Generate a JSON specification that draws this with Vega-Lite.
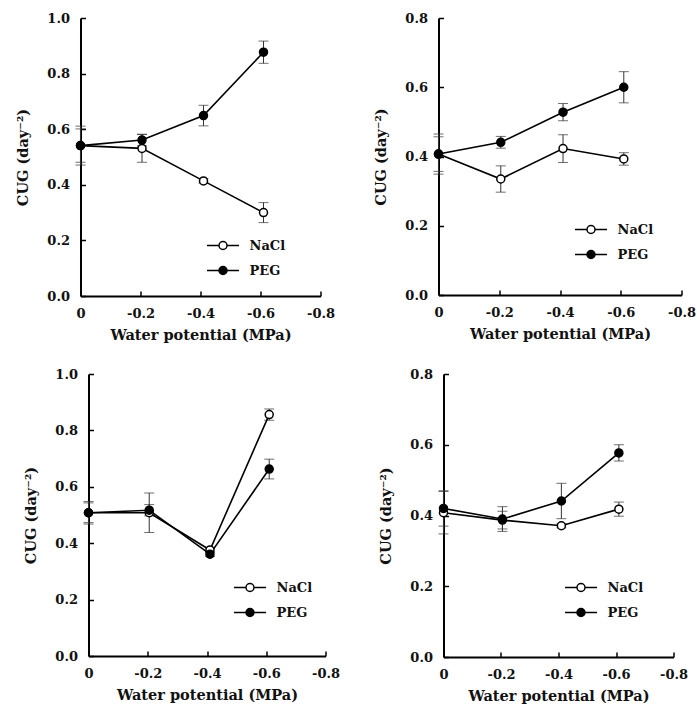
{
  "$schema": "https://vega.github.io/schema/vega-lite/v6.json",
  "padding": {"left": 15, "top": 12, "right": 3, "bottom": 5},
  "background": "white",
  "datasets": {
    "cug": [
      {"panel": "a", "treatment": "NaCl", "wp": 0, "cug": 0.541, "err": 0.06},
      {"panel": "a", "treatment": "NaCl", "wp": -0.205, "cug": 0.531, "err": 0.05},
      {"panel": "a", "treatment": "NaCl", "wp": -0.41, "cug": 0.414, "err": 0.008},
      {"panel": "a", "treatment": "NaCl", "wp": -0.61, "cug": 0.3, "err": 0.036},
      {"panel": "a", "treatment": "PEG", "wp": 0, "cug": 0.541, "err": 0.07},
      {"panel": "a", "treatment": "PEG", "wp": -0.205, "cug": 0.561, "err": 0.021},
      {"panel": "a", "treatment": "PEG", "wp": -0.41, "cug": 0.649, "err": 0.037},
      {"panel": "a", "treatment": "PEG", "wp": -0.61, "cug": 0.877, "err": 0.04},
      {"panel": "b", "treatment": "NaCl", "wp": 0, "cug": 0.407, "err": 0.058},
      {"panel": "b", "treatment": "NaCl", "wp": -0.205, "cug": 0.335, "err": 0.038},
      {"panel": "b", "treatment": "NaCl", "wp": -0.41, "cug": 0.423, "err": 0.04},
      {"panel": "b", "treatment": "NaCl", "wp": -0.61, "cug": 0.393, "err": 0.018},
      {"panel": "b", "treatment": "PEG", "wp": 0, "cug": 0.407, "err": 0.05},
      {"panel": "b", "treatment": "PEG", "wp": -0.205, "cug": 0.441, "err": 0.017},
      {"panel": "b", "treatment": "PEG", "wp": -0.41, "cug": 0.528, "err": 0.025},
      {"panel": "b", "treatment": "PEG", "wp": -0.61, "cug": 0.6, "err": 0.045},
      {"panel": "c", "treatment": "NaCl", "wp": 0, "cug": 0.508, "err": 0.04},
      {"panel": "c", "treatment": "NaCl", "wp": -0.205, "cug": 0.508, "err": 0.07},
      {"panel": "c", "treatment": "NaCl", "wp": -0.41, "cug": 0.376, "err": 0.008},
      {"panel": "c", "treatment": "NaCl", "wp": -0.61, "cug": 0.856, "err": 0.02},
      {"panel": "c", "treatment": "PEG", "wp": 0, "cug": 0.508, "err": 0.035},
      {"panel": "c", "treatment": "PEG", "wp": -0.205, "cug": 0.517, "err": 0.02},
      {"panel": "c", "treatment": "PEG", "wp": -0.41, "cug": 0.361, "err": 0.008},
      {"panel": "c", "treatment": "PEG", "wp": -0.61, "cug": 0.663, "err": 0.035},
      {"panel": "d", "treatment": "NaCl", "wp": 0, "cug": 0.408, "err": 0.06},
      {"panel": "d", "treatment": "NaCl", "wp": -0.205, "cug": 0.387, "err": 0.025},
      {"panel": "d", "treatment": "NaCl", "wp": -0.41, "cug": 0.371, "err": 0.006},
      {"panel": "d", "treatment": "NaCl", "wp": -0.61, "cug": 0.418, "err": 0.02},
      {"panel": "d", "treatment": "PEG", "wp": 0, "cug": 0.42, "err": 0.05},
      {"panel": "d", "treatment": "PEG", "wp": -0.205, "cug": 0.39, "err": 0.035},
      {"panel": "d", "treatment": "PEG", "wp": -0.41, "cug": 0.441, "err": 0.05},
      {"panel": "d", "treatment": "PEG", "wp": -0.61, "cug": 0.577, "err": 0.023}
    ]
  },
  "data": {"name": "cug"},
  "resolve": {"scale": {"fill": "independent"}, "legend": {"fill": "independent"}},
  "spacing": 26,
  "center": true,
  "vconcat": [
    {
      "spacing": 38,
      "resolve": {"scale": {"fill": "independent"}, "legend": {"fill": "independent"}},
      "hconcat": [
        {
          "width": 240, "height": 278,
          "transform": [{"filter": "datum.panel === 'a'"}],
          "encoding": {
            "x": {"field": "wp", "type": "quantitative", "scale": {"domain": [-0.8, 0], "reverse": true, "nice": false}, "axis": {"values": [0, -0.2, -0.4, -0.6, -0.8], "labelExpr": "datum.value == 0 ? '0' : '-' + format(abs(datum.value), '.1f')", "title": "Water potential (MPa)"}},
            "y": {"field": "cug", "type": "quantitative", "scale": {"domain": [0, 1], "nice": false}, "axis": {"values": [0, 0.2, 0.4, 0.6, 0.8, 1.0], "format": ".1f", "title": "CUG (day⁻²)"}}
          },
          "layer": [
            {"mark": {"type": "errorbar", "ticks": {"size": 10, "color": "#333"}, "color": "#333", "thickness": 1}, "encoding": {"yError": {"field": "err"}, "detail": {"field": "treatment"}}},
            {"mark": {"type": "line", "color": "black", "strokeWidth": 1.6}, "encoding": {"detail": {"field": "treatment"}}},
            {"mark": {"type": "point", "shape": "circle", "filled": true, "size": 64, "stroke": "black", "strokeWidth": 1.5, "opacity": 1},
             "encoding": {"fill": {"field": "treatment", "type": "nominal", "scale": {"domain": ["NaCl", "PEG"], "range": ["white", "black"]},
               "legend": {"title": null, "orient": "none", "legendX": 136, "legendY": 221, "symbolType": "M-4,0H-1M1,0A1,1,0,1,1,-1,0A1,1,0,1,1,1,0M1,0H4", "symbolSize": 64, "symbolStrokeColor": "black", "symbolStrokeWidth": 1.5, "labelOffset": 20}}}},
            {"data": {"values": [{"panel": "a", "letter": "a"}]}, "mark": {"type": "text", "fontSize": 18, "fontWeight": "bold", "font": "DejaVu Serif", "color": "#111"}, "encoding": {"x": {"datum": -0.08}, "y": {"datum": 0.917}, "text": {"field": "letter"}}}
          ]
        },
        {
          "width": 243, "height": 277,
          "transform": [{"filter": "datum.panel === 'b'"}],
          "encoding": {
            "x": {"field": "wp", "type": "quantitative", "scale": {"domain": [-0.8, 0], "reverse": true, "nice": false}, "axis": {"values": [0, -0.2, -0.4, -0.6, -0.8], "labelExpr": "datum.value == 0 ? '0' : '-' + format(abs(datum.value), '.1f')", "title": "Water potential (MPa)"}},
            "y": {"field": "cug", "type": "quantitative", "scale": {"domain": [0, 0.8], "nice": false}, "axis": {"values": [0, 0.2, 0.4, 0.6, 0.8], "format": ".1f", "title": "CUG (day⁻²)"}}
          },
          "layer": [
            {"mark": {"type": "errorbar", "ticks": {"size": 10, "color": "#333"}, "color": "#333", "thickness": 1}, "encoding": {"yError": {"field": "err"}, "detail": {"field": "treatment"}}},
            {"mark": {"type": "line", "color": "black", "strokeWidth": 1.6}, "encoding": {"detail": {"field": "treatment"}}},
            {"mark": {"type": "point", "shape": "circle", "filled": true, "size": 64, "stroke": "black", "strokeWidth": 1.5, "opacity": 1},
             "encoding": {"fill": {"field": "treatment", "type": "nominal", "scale": {"domain": ["NaCl", "PEG"], "range": ["white", "black"]},
               "legend": {"title": null, "orient": "none", "legendX": 146, "legendY": 205, "symbolType": "M-4,0H-1M1,0A1,1,0,1,1,-1,0A1,1,0,1,1,1,0M1,0H4", "symbolSize": 64, "symbolStrokeColor": "black", "symbolStrokeWidth": 1.5, "labelOffset": 20}}}},
            {"data": {"values": [{"panel": "b", "letter": "b"}]}, "mark": {"type": "text", "fontSize": 18, "fontWeight": "bold", "font": "DejaVu Serif", "color": "#111"}, "encoding": {"x": {"datum": -0.092}, "y": {"datum": 0.748}, "text": {"field": "letter"}}}
          ]
        }
      ]
    },
    {
      "spacing": 38,
      "resolve": {"scale": {"fill": "independent"}, "legend": {"fill": "independent"}},
      "hconcat": [
        {
          "width": 237, "height": 282,
          "transform": [{"filter": "datum.panel === 'c'"}],
          "encoding": {
            "x": {"field": "wp", "type": "quantitative", "scale": {"domain": [-0.8, 0], "reverse": true, "nice": false}, "axis": {"values": [0, -0.2, -0.4, -0.6, -0.8], "labelExpr": "datum.value == 0 ? '0' : '-' + format(abs(datum.value), '.1f')", "title": "Water potential (MPa)"}},
            "y": {"field": "cug", "type": "quantitative", "scale": {"domain": [0, 1], "nice": false}, "axis": {"values": [0, 0.2, 0.4, 0.6, 0.8, 1.0], "format": ".1f", "title": "CUG (day⁻²)"}}
          },
          "layer": [
            {"mark": {"type": "errorbar", "ticks": {"size": 10, "color": "#333"}, "color": "#333", "thickness": 1}, "encoding": {"yError": {"field": "err"}, "detail": {"field": "treatment"}}},
            {"mark": {"type": "line", "color": "black", "strokeWidth": 1.6}, "encoding": {"detail": {"field": "treatment"}}},
            {"mark": {"type": "point", "shape": "circle", "filled": true, "size": 64, "stroke": "black", "strokeWidth": 1.5, "opacity": 1},
             "encoding": {"fill": {"field": "treatment", "type": "nominal", "scale": {"domain": ["NaCl", "PEG"], "range": ["white", "black"]},
               "legend": {"title": null, "orient": "none", "legendX": 155, "legendY": 207, "symbolType": "M-4,0H-1M1,0A1,1,0,1,1,-1,0A1,1,0,1,1,1,0M1,0H4", "symbolSize": 64, "symbolStrokeColor": "black", "symbolStrokeWidth": 1.5, "labelOffset": 20}}}},
            {"data": {"values": [{"panel": "c", "letter": "c"}]}, "mark": {"type": "text", "fontSize": 18, "fontWeight": "bold", "font": "DejaVu Serif", "color": "#111"}, "encoding": {"x": {"datum": -0.105}, "y": {"datum": 0.922}, "text": {"field": "letter"}}}
          ]
        },
        {
          "width": 230, "height": 283,
          "transform": [{"filter": "datum.panel === 'd'"}],
          "encoding": {
            "x": {"field": "wp", "type": "quantitative", "scale": {"domain": [-0.8, 0], "reverse": true, "nice": false}, "axis": {"values": [0, -0.2, -0.4, -0.6, -0.8], "labelExpr": "datum.value == 0 ? '0' : '-' + format(abs(datum.value), '.1f')", "title": "Water potential (MPa)"}},
            "y": {"field": "cug", "type": "quantitative", "scale": {"domain": [0, 0.8], "nice": false}, "axis": {"values": [0, 0.2, 0.4, 0.6, 0.8], "format": ".1f", "title": "CUG (day⁻²)"}}
          },
          "layer": [
            {"mark": {"type": "errorbar", "ticks": {"size": 10, "color": "#333"}, "color": "#333", "thickness": 1}, "encoding": {"yError": {"field": "err"}, "detail": {"field": "treatment"}}},
            {"mark": {"type": "line", "color": "black", "strokeWidth": 1.6}, "encoding": {"detail": {"field": "treatment"}}},
            {"mark": {"type": "point", "shape": "circle", "filled": true, "size": 64, "stroke": "black", "strokeWidth": 1.5, "opacity": 1},
             "encoding": {"fill": {"field": "treatment", "type": "nominal", "scale": {"domain": ["NaCl", "PEG"], "range": ["white", "black"]},
               "legend": {"title": null, "orient": "none", "legendX": 131, "legendY": 207, "symbolType": "M-4,0H-1M1,0A1,1,0,1,1,-1,0A1,1,0,1,1,1,0M1,0H4", "symbolSize": 64, "symbolStrokeColor": "black", "symbolStrokeWidth": 1.5, "labelOffset": 20}}}},
            {"data": {"values": [{"panel": "d", "letter": "d"}]}, "mark": {"type": "text", "fontSize": 18, "fontWeight": "bold", "font": "DejaVu Serif", "color": "#111"}, "encoding": {"x": {"datum": -0.087}, "y": {"datum": 0.74}, "text": {"field": "letter"}}}
          ]
        }
      ]
    }
  ],
  "config": {
    "font": "DejaVu Serif",
    "view": {"stroke": null},
    "axis": {
      "grid": false,
      "domainColor": "black", "domainWidth": 2,
      "tickColor": "black", "tickWidth": 1.5, "tickSize": -5,
      "labelPadding": 16, "labelFlush": false, "labelOverlap": false,
      "labelFont": "DejaVu Serif", "labelFontWeight": "bold", "labelFontSize": 13, "labelColor": "#111",
      "titleFont": "DejaVu Serif", "titleFontWeight": "bold", "titleFontSize": 14.5, "titleColor": "#111"
    },
    "axisX": {"titlePadding": 8},
    "axisY": {"titlePadding": 16},
    "legend": {
      "labelFont": "DejaVu Serif", "labelFontWeight": "bold", "labelFontSize": 13, "labelColor": "#111",
      "rowPadding": 10
    }
  }
}
